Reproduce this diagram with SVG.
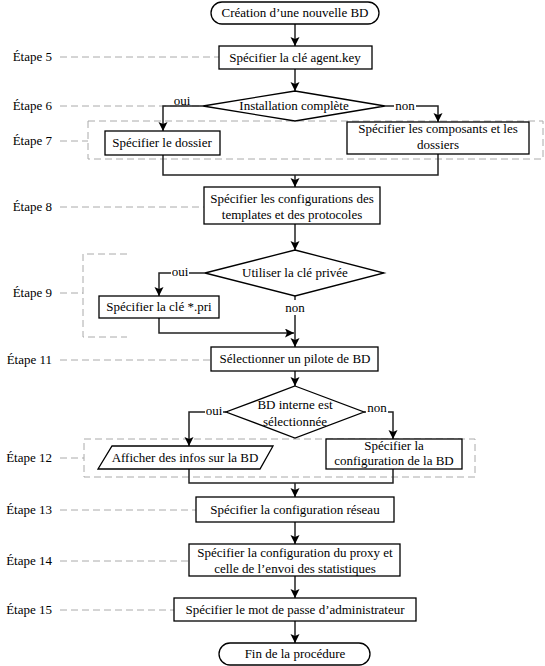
<svg xmlns="http://www.w3.org/2000/svg" width="545" height="666" viewBox="0 0 545 666" font-family="'Liberation Serif', 'Times New Roman', 'DejaVu Serif', serif">
<defs>
<style>
text{font-family:'Liberation Serif','Times New Roman','DejaVu Serif',serif;font-size:13px;fill:#000;text-anchor:middle}
.lbl{text-anchor:end}
.shape{fill:#fff;stroke:#000;stroke-width:1.3}
.conn{fill:none;stroke:#222;stroke-width:1.5}
.guide{fill:none;stroke:#aaa;stroke-width:1;stroke-dasharray:7 4}
.bg{fill:#fff;stroke:none}
</style>
<marker id="arr" markerUnits="userSpaceOnUse" markerWidth="10" markerHeight="10" refX="9" refY="4.5" orient="auto">
<path d="M0,0 L9,4.5 L0,9 L2,4.5 z" fill="#000"/>
</marker>
</defs>
<rect width="545" height="666" fill="#fff"/>

<g id="guides">
<path class="guide" d="M60,57 H219"/>
<path class="guide" d="M60,106 H203"/>
<path class="guide" d="M60,141 H88"/>
<rect class="guide" x="88" y="121" width="455" height="38"/>
<path class="guide" d="M60,207 H204"/>
<path class="guide" d="M60,293 H83"/>
<path class="guide" d="M127,254 H83 V337 H127"/>
<path class="guide" d="M60,360 H211"/>
<path class="guide" d="M60,458 H84"/>
<rect class="guide" x="84" y="439" width="391" height="38"/>
<path class="guide" d="M60,510 H196"/>
<path class="guide" d="M60,561 H189"/>
<path class="guide" d="M60,610 H174"/>
</g>

<g id="step-labels">
<text class="lbl" x="52" y="61">Étape 5</text>
<text class="lbl" x="52" y="110">Étape 6</text>
<text class="lbl" x="52" y="145">Étape 7</text>
<text class="lbl" x="52" y="211">Étape 8</text>
<text class="lbl" x="52" y="297">Étape 9</text>
<text class="lbl" x="52" y="364">Étape 11</text>
<text class="lbl" x="52" y="462">Étape 12</text>
<text class="lbl" x="52" y="514">Étape 13</text>
<text class="lbl" x="52" y="565">Étape 14</text>
<text class="lbl" x="52" y="614">Étape 15</text>
</g>

<g id="connectors">
<path class="conn" d="M295,24 V46" marker-end="url(#arr)"/>
<path class="conn" d="M295,69 V91" marker-end="url(#arr)"/>
<path class="conn" d="M203,106 H163 V131" marker-end="url(#arr)"/>
<path class="conn" d="M385,106 H438 V122" marker-end="url(#arr)"/>
<path class="conn" d="M163,155 V175 H438 V154"/>
<path class="conn" d="M295,175 V187" marker-end="url(#arr)"/>
<path class="conn" d="M295,224 V250" marker-end="url(#arr)"/>
<path class="conn" d="M205,273 H159 V296" marker-end="url(#arr)"/>
<path class="conn" d="M159,318 V333 H294" marker-end="url(#arr)"/>
<path class="conn" d="M295,296 V347" marker-end="url(#arr)"/>
<path class="conn" d="M295,371 V386" marker-end="url(#arr)"/>
<path class="conn" d="M226,412 H189 V446" marker-end="url(#arr)"/>
<path class="conn" d="M364,412 H393 V439" marker-end="url(#arr)"/>
<path class="conn" d="M189,469 V483 H393 V469"/>
<path class="conn" d="M295,483 V497" marker-end="url(#arr)"/>
<path class="conn" d="M295,522 V544" marker-end="url(#arr)"/>
<path class="conn" d="M295,576 V598" marker-end="url(#arr)"/>
<path class="conn" d="M295,621 V643" marker-end="url(#arr)"/>
<rect class="bg" x="173" y="96" width="18" height="9"/>
<text x="182" y="105">oui</text>
<rect class="bg" x="394" y="100" width="22" height="12"/>
<text x="405" y="110">non</text>
<rect class="bg" x="171" y="266" width="18" height="12"/>
<text x="180" y="276">oui</text>
<rect class="bg" x="284" y="300" width="22" height="15"/>
<text x="295" y="312">non</text>
<rect class="bg" x="205" y="406" width="18" height="12"/>
<text x="214" y="415">oui</text>
<rect class="bg" x="366" y="403" width="22" height="11"/>
<text x="377" y="412">non</text>
</g>

<g id="start">
<rect class="shape" x="211" y="2" width="168" height="22" rx="11"/>
<text x="295" y="17">Création d’une nouvelle BD</text>
</g>
<g id="step5">
<rect class="shape" x="219" y="46" width="153" height="23"/>
<text x="295" y="62">Spécifier la clé agent.key</text>
</g>
<g id="step6-decision">
<polygon class="shape" points="295,91 385,106 295,121 203,106"/>
<text x="294" y="110">Installation complète</text>
</g>
<g id="step7-folder">
<rect class="shape" x="105" y="131" width="115" height="24"/>
<text x="162" y="147">Spécifier le dossier</text>
</g>
<g id="step7-components">
<rect class="shape" x="347" y="122" width="182" height="32"/>
<text x="438" y="133">Spécifier les composants et les</text>
<text x="438" y="149">dossiers</text>
</g>
<g id="step8">
<rect class="shape" x="204" y="187" width="176" height="37"/>
<text x="292" y="203">Spécifier les configurations des</text>
<text x="292" y="219">templates et des protocoles</text>
</g>
<g id="step9-decision">
<polygon class="shape" points="295,250 384,273 295,296 205,273"/>
<text x="295" y="277">Utiliser la clé privée</text>
</g>
<g id="step9-key">
<rect class="shape" x="99" y="296" width="120" height="22"/>
<text x="159" y="311">Spécifier la clé *.pri</text>
</g>
<g id="step11">
<rect class="shape" x="211" y="347" width="167" height="24"/>
<text x="295" y="363">Sélectionner un pilote de BD</text>
</g>
<g id="step12-decision">
<polygon class="shape" points="295,386 364,412 295,438 226,412"/>
<text x="295" y="409">BD interne est</text>
<text x="295" y="426">sélectionnée</text>
</g>
<g id="step12-info">
<polygon class="shape" points="112,446 273,446 260,469 98,469"/>
<text x="185" y="462">Afficher des infos sur la BD</text>
</g>
<g id="step12-config">
<rect class="shape" x="326" y="439" width="136" height="30"/>
<text x="394" y="450">Spécifier la</text>
<text x="394" y="465">configuration de la BD</text>
</g>
<g id="step13">
<rect class="shape" x="196" y="497" width="198" height="25"/>
<text x="295" y="514">Spécifier la configuration réseau</text>
</g>
<g id="step14">
<rect class="shape" x="189" y="544" width="211" height="32"/>
<text x="295" y="557">Spécifier la configuration du proxy et</text>
<text x="295" y="573">celle de l’envoi des statistiques</text>
</g>
<g id="step15">
<rect class="shape" x="174" y="598" width="242" height="23"/>
<text x="295" y="614">Spécifier le mot de passe d’administrateur</text>
</g>
<g id="end">
<rect class="shape" x="219" y="643" width="151" height="22" rx="11"/>
<text x="295" y="658">Fin de la procédure</text>
</g>
</svg>
